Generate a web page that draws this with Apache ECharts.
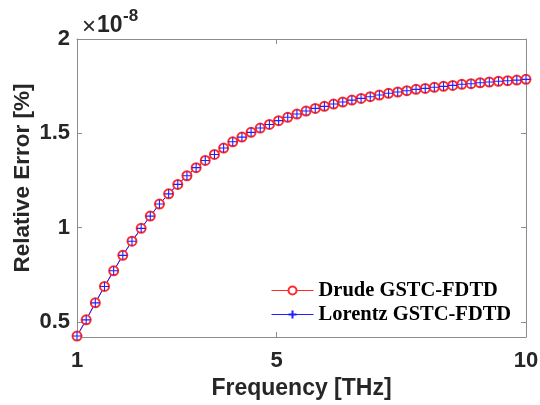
<!DOCTYPE html>
<html>
<head>
<meta charset="utf-8">
<script src="https://cdn.jsdelivr.net/npm/echarts@6/dist/echarts.min.js"></script>
<style>
  html, body { margin: 0; padding: 0; background: #fff; }
  #chart { width: 540px; height: 405px; }
</style>
</head>
<body>
<div id="chart"></div>
<script>
// Frequency samples [THz]
const frequency = [
  1.000, 1.184, 1.367, 1.551, 1.735, 1.918, 2.102, 2.286, 2.469, 2.653,
  2.837, 3.020, 3.204, 3.388, 3.571, 3.755, 3.939, 4.122, 4.306, 4.490,
  4.673, 4.857, 5.041, 5.224, 5.408, 5.592, 5.776, 5.959, 6.143, 6.327,
  6.510, 6.694, 6.878, 7.061, 7.245, 7.429, 7.612, 7.796, 7.980, 8.163,
  8.347, 8.531, 8.714, 8.898, 9.082, 9.265, 9.449, 9.633, 9.816, 10.000
];

// Relative error, in units of 1e-8 %
const drudeError = [
  0.425, 0.511, 0.601, 0.688, 0.771, 0.853, 0.928, 0.996, 1.061, 1.125,
  1.179, 1.229, 1.275, 1.318, 1.356, 1.388, 1.422, 1.455, 1.480, 1.505,
  1.528, 1.547, 1.567, 1.585, 1.602, 1.618, 1.632, 1.643, 1.655, 1.666,
  1.676, 1.685, 1.694, 1.703, 1.712, 1.719, 1.726, 1.733, 1.738, 1.744,
  1.749, 1.754, 1.760, 1.763, 1.768, 1.772, 1.776, 1.779, 1.782, 1.786
];

const lorentzError = [
  0.425, 0.511, 0.601, 0.688, 0.771, 0.853, 0.928, 0.996, 1.061, 1.125,
  1.179, 1.229, 1.275, 1.318, 1.356, 1.388, 1.422, 1.455, 1.480, 1.505,
  1.528, 1.547, 1.567, 1.585, 1.602, 1.618, 1.632, 1.643, 1.655, 1.666,
  1.676, 1.685, 1.694, 1.703, 1.712, 1.719, 1.726, 1.733, 1.738, 1.744,
  1.749, 1.754, 1.760, 1.763, 1.768, 1.772, 1.776, 1.779, 1.782, 1.786
];

const xTicks = [1, 5, 10];
const yTicks = [0.5, 1, 1.5, 2];

const AXIS_GREY = "#8c8c8c";
const TEXT_DARK = "#262626";
const LABEL_FONT = "Liberation Sans";

const pairs = (ys) => frequency.map((f, i) => [f, ys[i]]);

// box axis shared settings (MATLAB style: ticks inside, grey box)
function boxX(position, showLabels) {
  return {
    type: "value",
    position: position,
    min: 1,
    max: 10,
    splitLine: { show: false },
    axisLine: { show: true, onZero: false, lineStyle: { color: AXIS_GREY, width: 1 } },
    axisTick: { show: true, inside: true, length: 5, customValues: xTicks, lineStyle: { color: AXIS_GREY } },
    axisLabel: {
      show: showLabels,
      customValues: xTicks,
      margin: 13,
      color: TEXT_DARK,
      fontFamily: LABEL_FONT,
      fontWeight: "bold",
      fontSize: 22,
    },
  };
}

function boxY(position, showLabels) {
  return {
    type: "value",
    position: position,
    min: 0.42,
    max: 2,
    splitLine: { show: false },
    axisLine: { show: true, onZero: false, lineStyle: { color: AXIS_GREY, width: 1 } },
    axisTick: { show: true, inside: true, length: 5, customValues: yTicks, lineStyle: { color: AXIS_GREY } },
    axisLabel: {
      show: showLabels,
      customValues: yTicks,
      margin: 7,
      color: TEXT_DARK,
      fontFamily: LABEL_FONT,
      fontWeight: "bold",
      fontSize: 22,
    },
  };
}

const xBottom = boxX("bottom", true);
xBottom.name = "Frequency [THz]";
xBottom.nameLocation = "middle";
xBottom.nameGap = 40;
xBottom.nameTextStyle = { color: TEXT_DARK, fontFamily: LABEL_FONT, fontWeight: "bold", fontSize: 23 };

const option = {
  animation: false,
  backgroundColor: "#fff",
  // keep the box fixed even though the "10" label touches the right edge
  grid: { left: 77, right: 14, top: 39, bottom: 68, containLabel: false, outerBoundsMode: "none" },
  xAxis: [xBottom, boxX("top", false)],
  yAxis: [boxY("left", true), boxY("right", false)],
  legend: {
    orient: "vertical",
    left: 266,
    top: 275,
    itemWidth: 42,
    itemHeight: 10,
    itemGap: 3,
    lineStyle: { width: 1 },
    textStyle: {
      color: "#000",
      fontFamily: "Liberation Serif",
      fontWeight: "bold",
      fontSize: 20.5,
    },
    data: ["Drude GSTC-FDTD", "Lorentz GSTC-FDTD"],
  },
  graphic: [
    {
      type: "text",
      x: 89,
      y: 27,
      style: { text: "×", fontFamily: LABEL_FONT, fontSize: 24, fill: TEXT_DARK, align: "center", verticalAlign: "middle" },
    },
    {
      type: "text",
      x: 97,
      y: 26,
      style: { text: "10", fontFamily: LABEL_FONT, fontWeight: "bold", fontSize: 23, fill: TEXT_DARK, align: "left", verticalAlign: "middle" },
    },
    {
      type: "text",
      x: 123,
      y: 16,
      style: { text: "-8", fontFamily: LABEL_FONT, fontWeight: "bold", fontSize: 17, fill: TEXT_DARK, align: "left", verticalAlign: "middle" },
    },
    {
      type: "text",
      x: 23,
      y: 178,
      rotation: Math.PI / 2,
      style: {
        text: "Relative Error [%]",
        fontFamily: LABEL_FONT,
        fontWeight: "bold",
        fontSize: 22.5,
        fill: TEXT_DARK,
        align: "center",
        verticalAlign: "middle",
      },
    },
  ],
  series: [
    {
      name: "Drude GSTC-FDTD",
      type: "line",
      data: pairs(drudeError),
      symbol: "emptyCircle",
      symbolSize: 9,
      lineStyle: { color: "#ff2a2a", width: 1 },
      itemStyle: { color: "#ff2a2a", borderColor: "#ff2a2a", borderWidth: 0.9 },
    },
    {
      name: "Lorentz GSTC-FDTD",
      type: "line",
      data: pairs(lorentzError),
      symbol: "path://M5,0L5,10M0,5L10,5",
      symbolSize: 9,
      lineStyle: { color: "#1f1fff", width: 1 },
      itemStyle: { color: "#1f1fff", borderColor: "#1f1fff", borderWidth: 1.1 },
    },
  ],
};

const chart = echarts.init(document.getElementById("chart"));
chart.setOption(option);
</script>
</body>
</html>
